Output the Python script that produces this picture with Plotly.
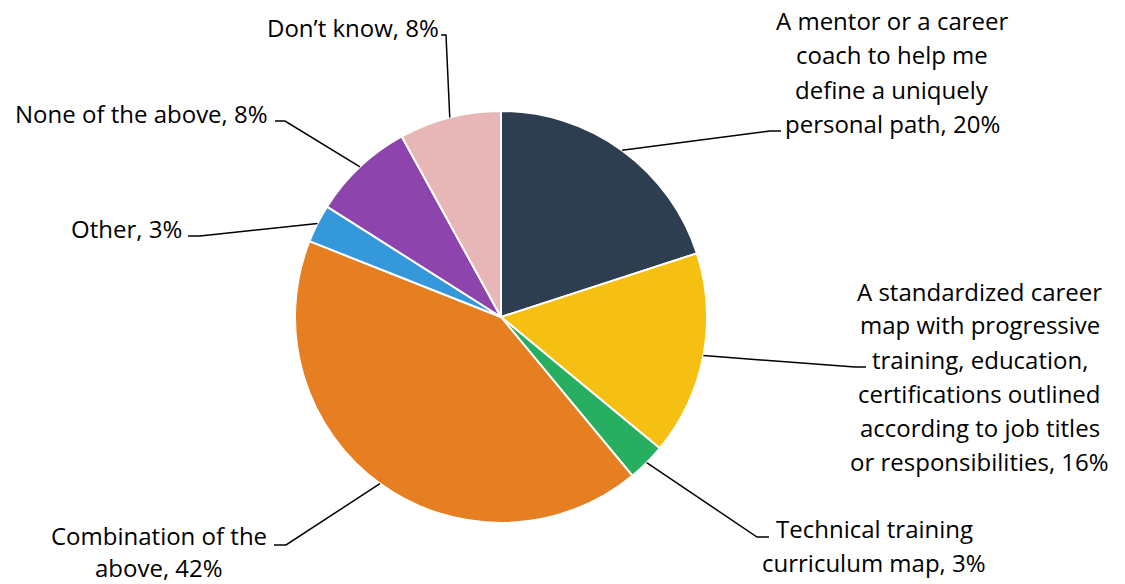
import math
import plotly.graph_objects as go

# Survey answers (clockwise from 12 o'clock) and their shares in percent
categories = [
    "A mentor or a career coach to help me define a uniquely personal path",
    "A standardized career map with progressive training, education, certifications outlined according to job titles or responsibilities",
    "Technical training curriculum map",
    "Combination of the above",
    "Other",
    "None of the above",
    "Don\u2019t know",
]
shares = [20, 16, 3, 42, 3, 8, 8]
colors = ["#2C3E50", "#F6C013", "#27AE60", "#E67E22", "#3498DB", "#8E44AD", "#E6B7B6"]

# Label text split into lines as they are set beside the pie
label_lines = [
    ["A mentor or a career", "coach to help me", "define a uniquely", "personal path, {}%"],
    ["A standardized career", "map with progressive", "training, education,",
     "certifications outlined", "according to job titles", "or responsibilities, {}%"],
    ["Technical training", "curriculum map, {}%"],
    ["Combination of the", "above, {}%"],
    ["Other, {}%"],
    ["None of the above, {}%"],
    ["Don\u2019t know, {}%"],
]

# Layout (pixels): canvas, pie centre/radius, label blocks and leader elbows
W, H = 1125, 584
CX, CY, R = 501, 317, 206
LINE_GAP = 34
# (x of block centre or edge, y of first line centre, x anchor, line gap)
label_pos = [
    (892, 21, "center", LINE_GAP),
    (980, 291, "center", LINE_GAP),
    (874, 528, "center", LINE_GAP),
    (159, 535, "center", 32),
    (184, 228, "right", LINE_GAP),
    (270, 113, "right", LINE_GAP),
    (441, 27, "right", LINE_GAP),
]
# leader lines: (elbow x, elbow y, end x near label)
leaders = [
    (770, 131, 781),
    (855, 367, 866),
    (757, 537, 769),
    (286, 545, 274),
    (200, 236, 188),
    (285, 121, 275),
    (446, 35, 441),
]

FONT = "'Open Sans', Lato, sans-serif"


def px(x):
    return x / W


def py(y):
    return 1 - y / H


fig = go.Figure(
    go.Pie(
        labels=categories,
        values=shares,
        sort=False,
        direction="clockwise",
        rotation=0,
        marker=dict(colors=colors, line=dict(color="white", width=2)),
        textinfo="none",
        hoverinfo="label+percent",
        domain=dict(x=[px(CX - R), px(CX + R)], y=[py(CY + R), py(CY - R)]),
        showlegend=False,
    )
)

total = sum(shares)
cum = 0
shapes = []
annotations = []
for i, v in enumerate(shares):
    mid = (cum + v / 2) / total * 2 * math.pi
    cum += v
    sx = CX + R * math.sin(mid)
    sy = CY - R * math.cos(mid)
    ex, ey, tx = leaders[i]
    path = f"M {px(sx)} {py(sy)} L {px(ex)} {py(ey)} L {px(tx)} {py(ey)}"
    shapes.append(dict(type="path", xref="paper", yref="paper", path=path,
                       line=dict(color="black", width=1.5)))

    lx, ly, anchor, gap = label_pos[i]
    for j, line in enumerate(label_lines[i]):
        annotations.append(dict(
            x=px(lx), y=py(ly + j * gap), xref="paper", yref="paper",
            text=line.format(v), showarrow=False,
            xanchor=anchor, yanchor="middle",
            font=dict(family=FONT, size=24, color="black"),
        ))

fig.update_layout(
    width=W, height=H,
    margin=dict(l=0, r=0, t=0, b=0),
    paper_bgcolor="white", plot_bgcolor="white",
    shapes=shapes, annotations=annotations,
)

fig.write_html("out.html")
